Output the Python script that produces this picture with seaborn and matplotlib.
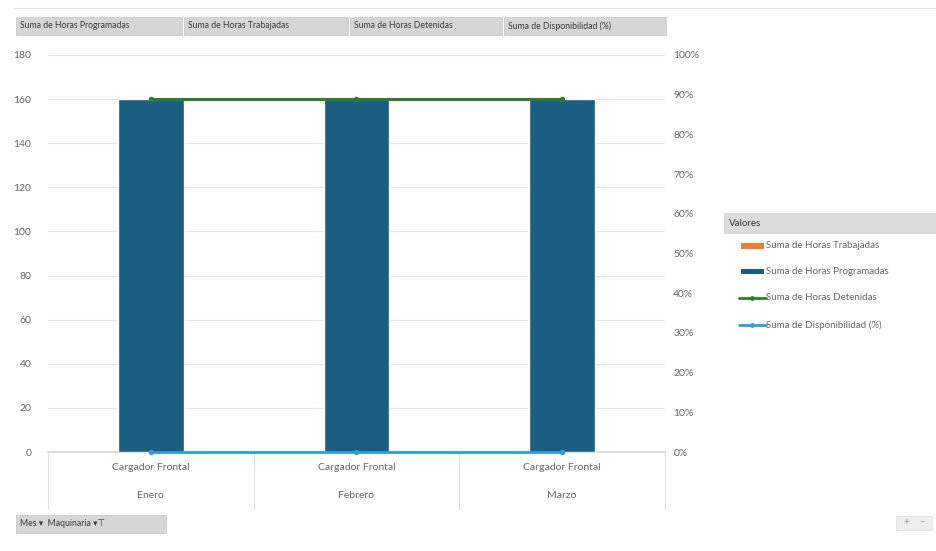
import matplotlib
matplotlib.use("Agg")
import matplotlib.pyplot as plt
import seaborn as sns
import pandas as pd
from matplotlib.patches import Rectangle
from matplotlib.lines import Line2D

sns.set_theme(style="white")
plt.rcParams['font.family'] = ['Lato', 'DejaVu Sans']

# ---- data ----
meses = ["Enero", "Febrero", "Marzo"]
maquinaria = ["Cargador Frontal", "Cargador Frontal", "Cargador Frontal"]
horas_programadas = [160, 160, 160]
horas_trabajadas = [0, 0, 0]
horas_detenidas = [160, 160, 160]
disponibilidad = [0.0, 0.0, 0.0]
left_ticks = [0, 20, 40, 60, 80, 100, 120, 140, 160, 180]
right_ticks = [0, 0.1, 0.2, 0.3, 0.4, 0.5, 0.6, 0.7, 0.8, 0.9, 1.0]
campos = ["Suma de Horas Programadas", "Suma de Horas Trabajadas",
          "Suma de Horas Detenidas", "Suma de Disponibilidad (%)"]
legend_labels = ["Suma de Horas Trabajadas", "Suma de Horas Programadas",
                 "Suma de Horas Detenidas", "Suma de Disponibilidad (%)"]

C_BLUE = "#1b5e82"
C_ORANGE = "#ed7d31"
C_GREEN = "#2e7d2f"
C_LBLUE = "#2e9fd6"
TXT = "#666666"

df = pd.DataFrame({"mes": meses, "maq": maquinaria, "prog": horas_programadas,
                   "trab": horas_trabajadas, "det": horas_detenidas,
                   "disp": disponibilidad})

W, H = 937, 551
fig = plt.figure(figsize=(W / 100, H / 100), dpi=100)
x0, x1 = 48, 665
y_top, y_bot = 55, 452
ax = fig.add_axes([x0 / W, 1 - y_bot / H, (x1 - x0) / W, (y_bot - y_top) / H])
px = 180 / (y_bot - y_top)  # data units per pixel

sns.barplot(data=df, x="mes", y="trab", color=C_ORANGE, width=0.32, saturation=1,
            ax=ax, zorder=2)
sns.barplot(data=df, x="mes", y="prog", color=C_BLUE, width=0.32, saturation=1,
            ax=ax, zorder=3)
sns.lineplot(data=df, x="mes", y="det", color=C_GREEN, lw=2.2, marker="o",
             markersize=4, markeredgewidth=0, ax=ax, zorder=5, sort=False)

ax.set_xlim(-0.5, 2.5)
ax.set_ylim(0, 180)
ax.set_yticks(left_ticks)
ax.set_yticklabels([str(v) for v in left_ticks])
ax.yaxis.grid(True, color="#e6e6e6", lw=0.8)
ax.set_axisbelow(True)
ax.set_xticks([])
ax.set_xlabel("")
ax.set_ylabel("")
for s in ax.spines.values():
    s.set_visible(False)
ax.spines["bottom"].set_visible(True)
ax.spines["bottom"].set_color("#d9d9d9")
ax.tick_params(axis="y", length=0, labelsize=7.5, labelcolor=TXT, pad=12)

ax2 = ax.twinx()
sns.lineplot(data=df, x="mes", y="disp", color=C_LBLUE, lw=2, marker="o",
             markersize=4, markeredgewidth=0, ax=ax2, zorder=6, sort=False,
             clip_on=False)
ax2.set_ylim(0, 1.0)
ax2.set_yticks(right_ticks)
ax2.set_yticklabels([f"{int(round(v * 100))}%" for v in right_ticks])
ax2.tick_params(axis="y", length=0, labelsize=7.5, labelcolor=TXT, pad=6)
ax2.set_ylabel("")
for s in ax2.spines.values():
    s.set_visible(False)
ax2.set_xlim(-0.5, 2.5)

# multi-level category labels
for i, (m, q) in enumerate(zip(meses, maquinaria)):
    ax.text(i, -16 * px, q, ha="center", va="center", fontsize=7.5, color=TXT)
    ax.text(i, -43 * px, m, ha="center", va="center", fontsize=7.5, color=TXT)
for xb in [-0.5, 0.5, 1.5, 2.5]:
    ax.add_line(Line2D([xb, xb], [0, -57 * px], color="#e0e0e0", lw=0.8, clip_on=False))

# top border line
fig.add_artist(Line2D([14 / W, 937 / W], [1 - 8 / H, 1 - 8 / H], color="#e3e3e3", lw=0.8))

# field buttons
def button(xp, yp, wp, hp, text, fs=6.2):
    fig.add_artist(Rectangle((xp / W, 1 - (yp + hp) / H), wp / W, hp / H,
                             facecolor="#d6d6d6", edgecolor="#c4c4c4", lw=0.5))
    fig.text((xp + 4) / W, 1 - (yp + hp / 2) / H, text, fontsize=fs,
             color="#3a3a3a", ha="left", va="center")

bx = [16, 184, 350, 504]
bw = [166, 164, 152, 162]
for xp, wp, t in zip(bx, bw, campos):
    button(xp, 17, wp, 18, t)

button(16, 515, 150, 18, "Mes ▾  Maquinaria ▾⊤")
fig.add_artist(Rectangle((896 / W, 1 - 530 / H), 36 / W, 14 / H,
                         facecolor="#eeeeee", edgecolor="#dddddd", lw=0.5))
fig.text(906 / W, 1 - 523 / H, "+", fontsize=7, color="#999999", ha="center", va="center")
fig.text(922 / W, 1 - 523 / H, "−", fontsize=7, color="#999999", ha="center", va="center")

# legend
fig.add_artist(Rectangle((724 / W, 1 - 233 / H), 212 / W, 20 / H,
                         facecolor="#dcdcdc", edgecolor="#cccccc", lw=0.5))
fig.text(729 / W, 1 - 223 / H, "Valores", fontsize=7, color="#333333", ha="left", va="center")
leg_y = [246, 271, 298, 325]
leg_c = [C_ORANGE, C_BLUE, C_GREEN, C_LBLUE]
for k, (yy, cc, lab) in enumerate(zip(leg_y, leg_c, legend_labels)):
    yf = 1 - yy / H
    if k < 2:
        fig.add_artist(Rectangle((741 / W, yf - 2.5 / H), 23 / W, 5 / H,
                                 facecolor=cc, edgecolor="none"))
    else:
        fig.add_artist(Line2D([739 / W, 766 / W], [yf, yf], color=cc, lw=2))
        fig.add_artist(Line2D([752.5 / W], [yf], color=cc, marker="o",
                              markersize=3.5, markeredgewidth=0))
    fig.text(766 / W, yf, lab, fontsize=7, color=TXT, ha="left", va="center")

fig.savefig("out.png", dpi=100, facecolor="white")
